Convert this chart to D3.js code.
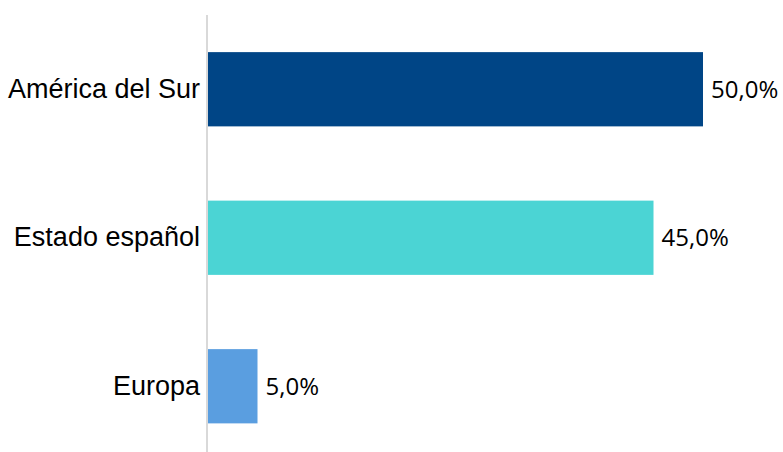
<!DOCTYPE html>
<html>
<head>
<meta charset="utf-8">
<script src="https://cdn.jsdelivr.net/npm/d3@7"></script>
<style>
  body { margin: 0; background: #fff; }
</style>
</head>
<body>
<div id="chart"></div>
<script>
// categorías y valores (%)
var categories = ["América del Sur", "Estado español", "Europa"];
var values = [50, 45, 5];
var colors = ["#004586", "#4BD4D4", "#5A9EE0"];

var width = 783, height = 452;

var svg = d3.select("#chart").append("svg")
    .attr("width", width)
    .attr("height", height);

//x軸のスケール
var xScale = d3.scaleLinear()
    .domain([0, 50])
    .range([208, 703]);

//y軸のスケール
var yScale = d3.scaleBand()
    .domain(categories)
    .range([15, 460.5])
    .paddingInner(0.5)
    .paddingOuter(0.25);

// barras
svg.selectAll("rect.bar")
    .data(values)
    .enter()
    .append("rect")
    .attr("class", "bar")
    .attr("x", xScale(0))
    .attr("y", function (d, i) { return yScale(categories[i]); })
    .attr("width", function (d) { return xScale(d) - xScale(0); })
    .attr("height", yScale.bandwidth())
    .attr("fill", function (d, i) { return colors[i]; });

// eje vertical
var axis = svg.append("g")
    .attr("transform", "translate(" + (xScale(0) - 1) + ",0)")
    .call(d3.axisLeft(yScale).tickSize(0).tickPadding(7));
axis.select(".domain").remove();
axis.append("line")
    .attr("x1", 0).attr("x2", 0)
    .attr("y1", 15).attr("y2", 452)
    .attr("stroke", "#d9d9d9")
    .attr("stroke-width", 2);
axis.attr("font-family", "Liberation Sans, Arial, sans-serif")
    .attr("font-size", 27);
axis.selectAll("text")
    .attr("fill", "#000");

// etiquetas de valor
svg.selectAll("text.val")
    .data(values)
    .enter()
    .append("text")
    .attr("class", "val")
    .attr("x", function (d) { return xScale(d) + 8; })
    .attr("y", function (d, i) { return yScale(categories[i]) + yScale.bandwidth() / 2; })
    .attr("dy", "0.35em")
    .attr("font-family", "Open Sans, sans-serif")
    .attr("font-size", 24)
    .attr("fill", "#000")
    .text(function (d) { return d.toFixed(1).replace(".", ",") + "%"; });
</script>
</body>
</html>
